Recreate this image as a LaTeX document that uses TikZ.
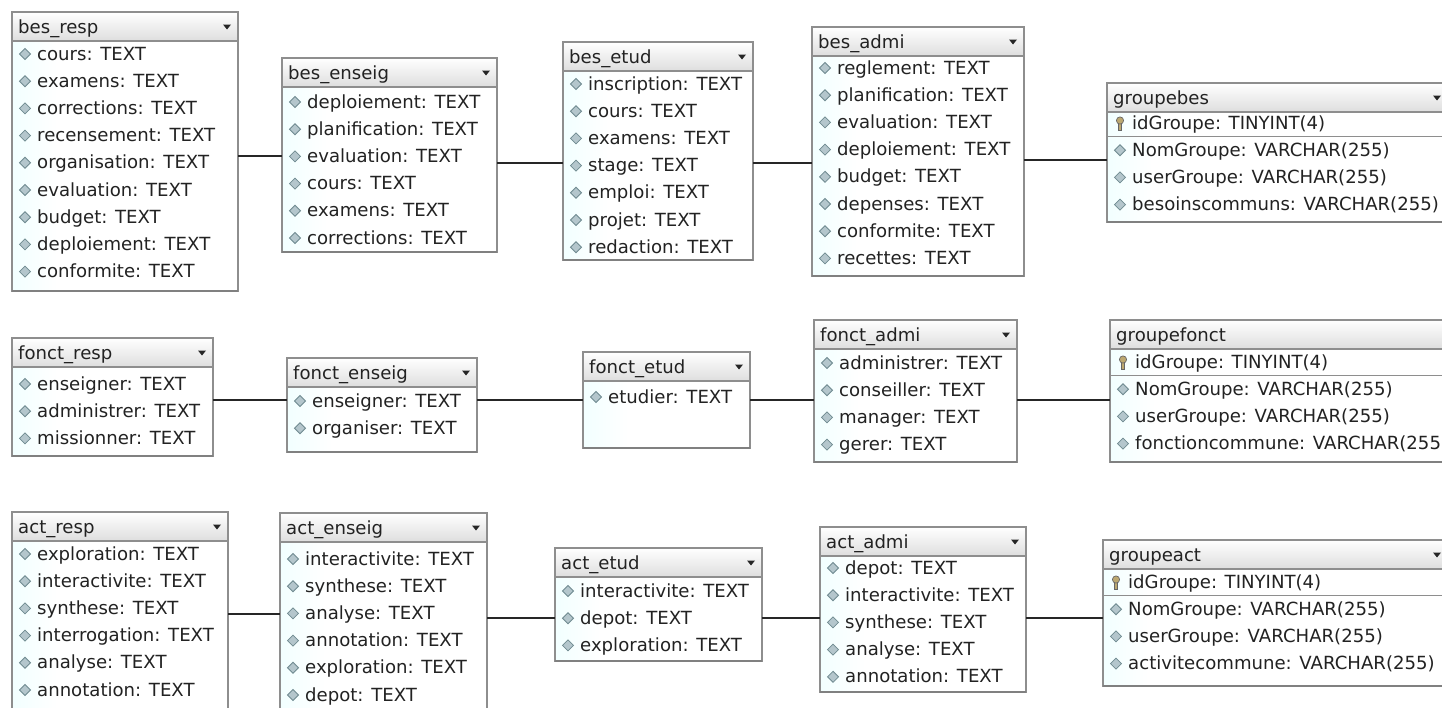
\documentclass[tikz,border=0pt]{standalone}
\usepackage{fontspec}
\setmainfont{DejaVu Sans}
\usetikzlibrary{fit}
\definecolor{bordergray}{HTML}{8E8E8E}
\definecolor{icofill}{HTML}{B4C6CC}
\definecolor{icodraw}{HTML}{6F8A90}
\definecolor{txt}{HTML}{222222}
\definecolor{keyfill}{HTML}{BCA870}
\tikzset{
  tabbody/.style={rectangle, draw=bordergray, line width=1.3pt, fill=white, inner sep=0pt, outer sep=0pt},
  tabhead/.style={rectangle, inner sep=0pt, outer sep=0pt, top color=white, bottom color=black!13, draw=bordergray, line width=1.1pt},
  headtext/.style={font=\fontsize{18.1}{20}\selectfont, text=txt, inner sep=0pt, text height=12pt, text depth=0pt, anchor=west},
  rowtext/.style={font=\fontsize{18.1}{20}\selectfont, text=txt, inner sep=0pt, text height=12pt, text depth=0pt, anchor=west},
  colicon/.style={fill=icofill, draw=icodraw, line width=0.8pt},
  keyicon/.style={fill=keyfill, draw=black!60, line width=0.7pt},
  dropdown/.style={fill=black!85},
  conn/.style={draw=black!85, line width=1.8pt},
  sepline/.style={draw=bordergray, line width=1pt},
  bottomline/.style={draw=black!50, line width=2pt}
}
\newif\ifkeyrow
\newcommand{\colico}[2]{\path[colicon] ({#1-5.5},{#2}) -- ({#1},{#2-5.5}) -- ({#1+5.5},{#2}) -- ({#1},{#2+5.5}) -- cycle;}
\newcommand{\keyico}[2]{\path[keyicon] ({#1-1.6},{#2}) rectangle ({#1+1.6},{#2+7});
  \path[keyicon] ({#1},{#2-2.5}) circle[radius=3.6pt];}
% name, left, top, right, bottom, title, first row y, rows
\newcommand{\dbtab}[8]{%
  \node[tabbody, fit={(#2,#3) (#4,#5)}] (#1) {};
  \shade[left color=cyan!5, right color=white] ({#2+1},{#3+29}) rectangle ({#2+45},{#5-1});
  \node[tabhead, fit={(#2,#3) (#4,{#3+29})}] (#1-h) {};
  \node[headtext] (#1-t) at ({#2+6},{#3+15.5}) {#6};
  \fill[dropdown] ({#4-15},{#3+12.5}) -- ({#4-7},{#3+12.5}) -- ({#4-11},{#3+17.5}) -- cycle;
  \foreach \rowtxt [count=\i from 0] in {#8} {
    \node[rowtext] (#1-r\i) at ({#2+25},{#7+\i*27.2}) {\rowtxt};
    \ifkeyrow
      \ifnum\i=0 \keyico{#2+13}{#7} \else \colico{#2+13}{#7+\i*27.2} \fi
    \else
      \colico{#2+13}{#7+\i*27.2}
    \fi
  }
  \ifkeyrow \draw[sepline] (#2,{#7+13.6}) -- (#4,{#7+13.6}); \fi
  \draw[bottomline] (#2,#5) -- (#4,#5);
}
\newcommand{\link}[3]{\draw[conn] (#1.east |- 0,#3) -- (#2.west |- 0,#3);}
\begin{document}
\begin{tikzpicture}[x=1pt, y=-1pt]
\useasboundingbox (0,0) rectangle (1442,707);
\fill[white] (0,0) rectangle (1442,707);
\clip (0,0) rectangle (1442,707);

% row 1
\keyrowfalse
\dbtab{besresp}{12}{12}{238}{291}{bes\_resp}{54}{cours: TEXT, examens: TEXT, corrections: TEXT, recensement: TEXT, organisation: TEXT, evaluation: TEXT, budget: TEXT, deploiement: TEXT, conformite: TEXT}
\dbtab{besenseig}{282}{58}{497}{252}{bes\_enseig}{102}{deploiement: TEXT, planification: TEXT, evaluation: TEXT, cours: TEXT, examens: TEXT, corrections: TEXT}
\dbtab{besetud}{563}{42}{753}{260}{bes\_etud}{84}{inscription: TEXT, cours: TEXT, examens: TEXT, stage: TEXT, emploi: TEXT, projet: TEXT, redaction: TEXT}
\dbtab{besadmi}{812}{27}{1024}{276}{bes\_admi}{68}{reglement: TEXT, planification: TEXT, evaluation: TEXT, deploiement: TEXT, budget: TEXT, depenses: TEXT, conformite: TEXT, recettes: TEXT}
\keyrowtrue
\dbtab{groupebes}{1107}{83}{1448}{222}{groupebes}{123}{idGroupe: TINYINT(4), NomGroupe: VARCHAR(255), userGroupe: VARCHAR(255), besoinscommuns: VARCHAR(255)}

% row 2
\keyrowfalse
\dbtab{fonctresp}{12}{338}{213}{456}{fonct\_resp}{384}{enseigner: TEXT, administrer: TEXT, missionner: TEXT}
\dbtab{fonctenseig}{287}{358}{477}{452}{fonct\_enseig}{401}{enseigner: TEXT, organiser: TEXT}
\dbtab{fonctetud}{583}{352}{750}{448}{fonct\_etud}{397}{etudier: TEXT}
\dbtab{fonctadmi}{814}{320}{1017}{462}{fonct\_admi}{363}{administrer: TEXT, conseiller: TEXT, manager: TEXT, gerer: TEXT}
\keyrowtrue
\dbtab{groupefonct}{1110}{320}{1475}{462}{groupefonct}{362}{idGroupe: TINYINT(4), NomGroupe: VARCHAR(255), userGroupe: VARCHAR(255), fonctioncommune: VARCHAR(255)}

% row 3
\keyrowfalse
\dbtab{actresp}{12}{512}{228}{720}{act\_resp}{554}{exploration: TEXT, interactivite: TEXT, synthese: TEXT, interrogation: TEXT, analyse: TEXT, annotation: TEXT}
\dbtab{actenseig}{280}{513}{487}{720}{act\_enseig}{559}{interactivite: TEXT, synthese: TEXT, analyse: TEXT, annotation: TEXT, exploration: TEXT, depot: TEXT}
\dbtab{actetud}{555}{548}{762}{661}{act\_etud}{591}{interactivite: TEXT, depot: TEXT, exploration: TEXT}
\dbtab{actadmi}{820}{527}{1026}{692}{act\_admi}{568}{depot: TEXT, interactivite: TEXT, synthese: TEXT, analyse: TEXT, annotation: TEXT}
\keyrowtrue
\dbtab{groupeact}{1103}{540}{1448}{686}{groupeact}{582}{idGroupe: TINYINT(4), NomGroupe: VARCHAR(255), userGroupe: VARCHAR(255), activitecommune: VARCHAR(255)}

% connectors
\link{besresp}{besenseig}{156}
\link{besenseig}{besetud}{163}
\link{besetud}{besadmi}{163}
\link{besadmi}{groupebes}{160}
\link{fonctresp}{fonctenseig}{400}
\link{fonctenseig}{fonctetud}{400}
\link{fonctetud}{fonctadmi}{400}
\link{fonctadmi}{groupefonct}{400}
\link{actresp}{actenseig}{614}
\link{actenseig}{actetud}{618}
\link{actetud}{actadmi}{618}
\link{actadmi}{groupeact}{618}
\end{tikzpicture}
\end{document}
